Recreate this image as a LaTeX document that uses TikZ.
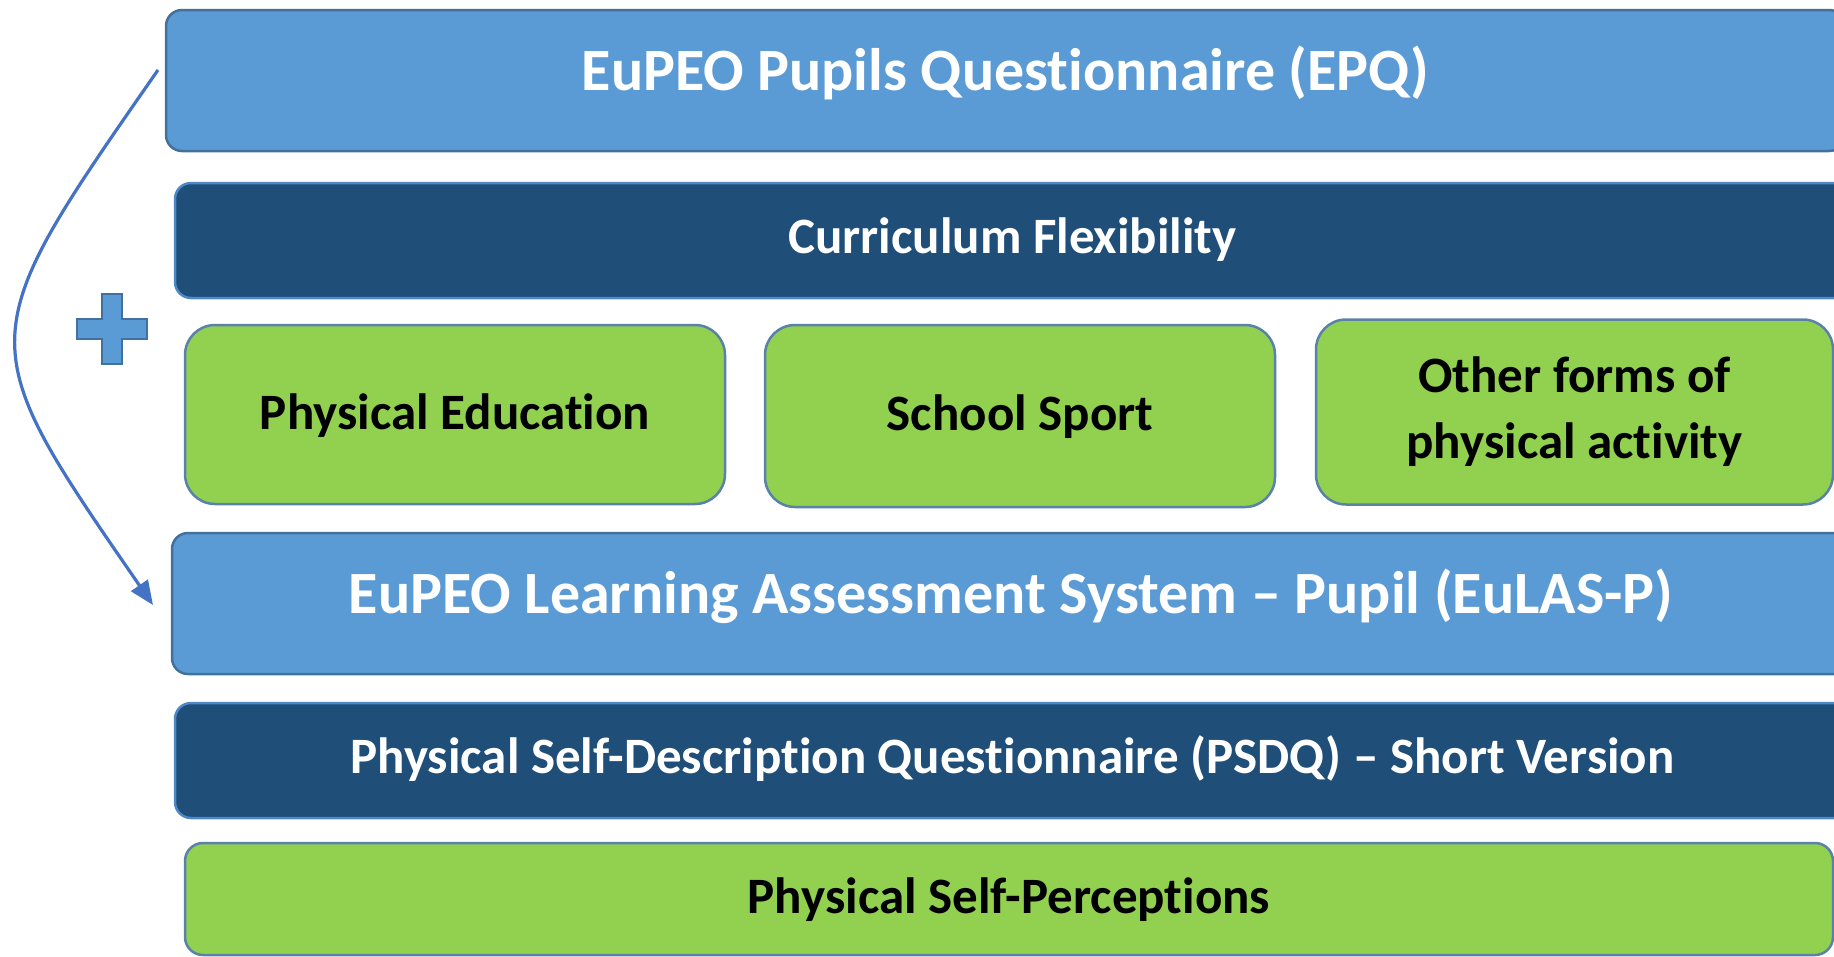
\documentclass[tikz,border=0pt]{standalone}
\usepackage{fontspec}
\setmainfont{Carlito}[Ligatures=NoCommon]
\usetikzlibrary{arrows.meta}
\definecolor{lblue}{HTML}{5B9BD5}
\definecolor{dblue}{HTML}{1F4E79}
\definecolor{lgreen}{HTML}{92D050}
\definecolor{edgec}{HTML}{41719C}
\definecolor{darkedge}{HTML}{4F88C6}
\definecolor{greenedge}{HTML}{5A82A8}
\definecolor{arrowc}{HTML}{4472C4}
\begin{document}
\begin{tikzpicture}[x=1pt,y=-1pt,
  bar/.style={line width=2.5pt, rounded corners=16pt, inner sep=0pt, align=center},
  bigtext/.style={font=\fontsize{60}{72}\selectfont\bfseries},
  midtext/.style={font=\fontsize{51}{66}\selectfont\bfseries},
  lightbar/.style={bar, draw=edgec, fill=lblue, text=white, bigtext, text height=19pt, text depth=0pt},
  darkbar/.style={bar, draw=darkedge, fill=dblue, text=white, midtext, text height=26pt, text depth=0pt},
  greenbase/.style={bar, draw=greenedge, fill=lgreen, text=black, rounded corners=30pt, midtext},
  greenbox/.style={greenbase, text height=29pt, text depth=0pt},
  plusshape/.style={fill=lblue, draw=edgec, line width=2pt},
  flow/.style={draw=arrowc, line width=3.2pt, -{Triangle[length=24pt,width=20pt]}}
]
\useasboundingbox (0,0) rectangle (1834,956);
\clip (0,0) rectangle (1834,956);

\node[lightbar, minimum width=1679pt, minimum height=141pt] (epq) at (1005.5,80.5) {EuPEO Pupils Questionnaire (EPQ)};
\node[darkbar, minimum width=1675pt, minimum height=115pt] (cf) at (1012.5,240.5) {Curriculum Flexibility};
\node[greenbox, minimum width=540pt, minimum height=179pt] (pe) at (455,414.5) {Physical Education};
\node[greenbox, minimum width=510pt, minimum height=182pt] (ss) at (1020,416) {School Sport};
\node[greenbase, minimum width=517pt, minimum height=185pt] (ofpa) at (1574.5,412) {Other forms of\\physical activity};
\node[lightbar, minimum width=1678pt, minimum height=141pt] (eulas) at (1011,603.5) {EuPEO Learning Assessment System -- Pupil (EuLAS-P)};
\node[darkbar, minimum width=1675pt, minimum height=115pt] (psdq) at (1012.5,760.5) {Physical Self-Description Questionnaire (PSDQ) -- Short Version};
\node[greenbox, rounded corners=18pt, minimum width=1648pt, minimum height=112pt] (psp) at (1009,899) {Physical Self-Perceptions};

% plus sign
\draw[plusshape] (102,294) -- (122,294) -- (122,319) -- (147,319) -- (147,339) -- (122,339) -- (122,364) -- (102,364) -- (102,339) -- (77,339) -- (77,319) -- (102,319) -- cycle;

% curved arrow from EPQ to EuLAS-P
\coordinate (as) at (158,70);
\coordinate (ae) at (153,605);
\draw[flow] (as) .. controls (-30,340) .. (ae);
\end{tikzpicture}
\end{document}
